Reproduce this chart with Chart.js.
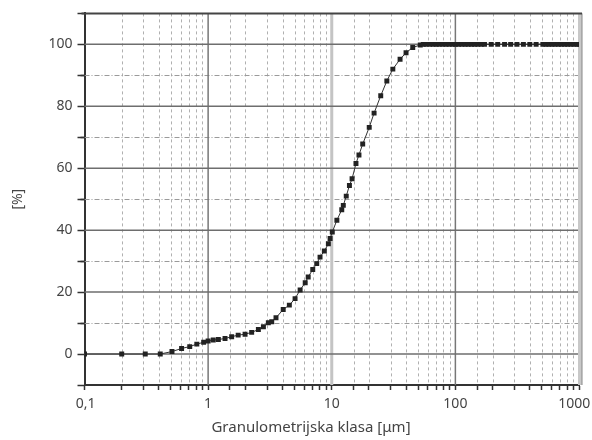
<!DOCTYPE html>
<html>
<head>
<meta charset="utf-8">
<script src="https://cdn.jsdelivr.net/npm/chart.js@4"></script>
<style>
html,body{margin:0;padding:0;background:#fff;}
#wrap{width:592px;height:440px;}
</style>
</head>
<body>
<div id="wrap"><canvas id="c" width="592" height="440"></canvas></div>
<script>
// Particle size (µm) and cumulative passing (%)
const sizes = [0.1,0.2,0.31,0.41,0.51,0.61,0.71,0.81,0.92,1.0,1.1,1.21,1.37,1.55,1.75,1.99,2.25,2.55,2.8,3.07,3.27,3.54,4.05,4.54,5.05,5.55,6.1,6.45,7.02,7.56,8.04,8.71,9.39,9.7,10.1,11.0,12.05,12.4,13.1,13.9,14.6,15.7,16.6,17.8,20.1,22.0,24.9,27.9,31.2,35.7,39.9,45.2,52,55,58,62,66,70,74,79,84,89,95,100,106,113,120,127,135,143,152,162,172,195,220,250,280,315,355,400,450,510,540,570,605,640,680,720,765,810,860,910,965,1000];
const cumulative = [0,0,0,0,0.8,1.8,2.4,3.2,3.8,4.2,4.5,4.7,5.0,5.6,6.1,6.4,7.0,7.9,8.8,10.1,10.4,11.7,14.4,15.8,17.9,20.7,23.0,24.9,27.3,29.2,31.3,33.3,35.6,37.3,39.4,43.2,46.6,48.0,51.0,54.4,56.6,61.5,64.3,67.8,73.2,77.8,83.4,88.2,92.0,95.2,97.3,99.0,99.8,100,100,100,100,100,100,100,100,100,100,100,100,100,100,100,100,100,100,100,100,100,100,100,100,100,100,100,100,100,100,100,100,100,100,100,100,100,100,100,100,100];
const xTickLabels = {"-1":"\u20090,1","0":"1","1":"10","2":"100","3":"1000\u2002\u2009"};
const yTickLabels = [0,20,40,60,80,100];
const xTitle = "Granulometrijska klasa [\u03bcm]";
const yTitle = "[%]";

const points = sizes.map((s,i)=>({x:s,y:cumulative[i]}));
const FONT = "'Noto Sans', sans-serif";
const TXT = '#444';

function isPow10(v){const l=Math.log10(v);return Math.abs(l-Math.round(l))<1e-6;}

const gridPlugin = {
  id:'gridPlugin',
  beforeDatasetsDraw(chart){
    const ctx=chart.ctx, a=chart.chartArea, xs=chart.scales.x, ys=chart.scales.y;
    ctx.save();
    xs.ticks.forEach(t=>{
      if(isPow10(t.value)) return;
      const px=Math.round(xs.getPixelForValue(t.value))+0.5;
      ctx.strokeStyle='#b0b0b0'; ctx.lineWidth=1; ctx.setLineDash([3,3]);
      ctx.beginPath(); ctx.moveTo(px,a.top); ctx.lineTo(px,a.bottom); ctx.stroke();
    });
    ys.ticks.forEach(t=>{
      const v=t.value;
      if(v<=-10||v>=110) return;
      const py=Math.round(ys.getPixelForValue(v))+0.5;
      if(Math.abs(v%20)===10){
        ctx.strokeStyle='#9a9a9a'; ctx.lineWidth=1; ctx.setLineDash([5,2,1,2]);
        ctx.beginPath(); ctx.moveTo(a.left,py); ctx.lineTo(a.right,py); ctx.stroke();
        ctx.setLineDash([]); ctx.strokeStyle='#333'; ctx.lineWidth=1.5;
        ctx.beginPath(); ctx.moveTo(a.left-4,py); ctx.lineTo(a.left,py); ctx.stroke();
      }
    });
    ctx.setLineDash([]);
    xs.ticks.forEach(t=>{
      if(!isPow10(t.value)) return;
      const v=t.value; if(v<=0.1000001||v>=999) return;
      const px=xs.getPixelForValue(v);
      if(Math.abs(v-10)<1e-6){ctx.strokeStyle='#c4c4c4'; ctx.lineWidth=3;}
      else {ctx.strokeStyle='#777'; ctx.lineWidth=1.5;}
      ctx.beginPath(); ctx.moveTo(px,a.top); ctx.lineTo(px,a.bottom); ctx.stroke();
    });
    ys.ticks.forEach(t=>{
      const v=t.value;
      if(v<0||v>100||Math.abs(v%20)!==0) return;
      const py=ys.getPixelForValue(v);
      ctx.strokeStyle='#6e6e6e'; ctx.lineWidth=1.5;
      ctx.beginPath(); ctx.moveTo(a.left,py); ctx.lineTo(a.right,py); ctx.stroke();
    });
    ctx.strokeStyle='#c8c8c8'; ctx.lineWidth=4;
    ctx.beginPath(); ctx.moveTo(a.right+1,a.top); ctx.lineTo(a.right+1,a.bottom); ctx.stroke();
    ctx.strokeStyle='#888'; ctx.lineWidth=1;
    ctx.beginPath(); ctx.moveTo(a.right+3,a.top); ctx.lineTo(a.right+3,a.bottom); ctx.stroke();
    ctx.strokeStyle='#444'; ctx.lineWidth=2;
    ctx.beginPath(); ctx.moveTo(a.left-3,a.top); ctx.lineTo(a.right+3,a.top); ctx.stroke();
    ctx.fillStyle=TXT; ctx.font="15px "+FONT; ctx.textAlign='center'; ctx.textBaseline='middle';
    ctx.fillText(xTitle, 311, 428);
    ctx.restore();
  }
};

new Chart(document.getElementById('c'),{
  type:'scatter',
  data:{datasets:[{
    data:points,
    showLine:true,
    borderColor:'#333',
    borderWidth:1,
    backgroundColor:'#222',
    pointBackgroundColor:'#222',
    pointBorderColor:'#222',
    pointBorderWidth:0,
    pointStyle:'rect',
    pointRadius:3.5,
    tension:0
  }]},
  options:{
    responsive:false,
    animation:false,
    events:[],
    layout:{padding:{top:13,right:13,left:0,bottom:0}},
    plugins:{legend:{display:false},tooltip:{enabled:false}},
    scales:{
      x:{
        type:'logarithmic',
        min:0.1,max:1000,
        border:{display:true,color:'#333',width:2},
        grid:{drawOnChartArea:false,drawTicks:true,tickLength:5,color:'#333',tickColor:'#333',tickWidth:1.5},
        ticks:{autoSkip:false,maxRotation:0,padding:6,color:TXT,font:{family:FONT,size:14},
          callback:(v)=>{ if(!isPow10(v)) return ''; const l=Math.round(Math.log10(v)); return xTickLabels[String(l)] || ''; }},
        title:{display:false},
        afterFit:(s)=>{s.height=55; s.paddingRight=0; s.paddingLeft=0;}
      },
      y:{
        type:'linear',
        min:-10,max:110,
        border:{display:true,color:'#333',width:2},
        grid:{drawOnChartArea:false,drawTicks:true,tickLength:7,tickColor:'#333',tickWidth:1.5},
        ticks:{stepSize:10,padding:5,color:TXT,font:{family:FONT,size:14},
          callback:(v)=> yTickLabels.includes(v)? String(v):''},
        title:{display:true,text:yTitle,color:TXT,font:{family:FONT,size:14},padding:{top:10,bottom:4}},
        afterFit:(s)=>{s.width=84.5;}
      }
    }
  },
  plugins:[gridPlugin]
});
</script>
</body>
</html>
